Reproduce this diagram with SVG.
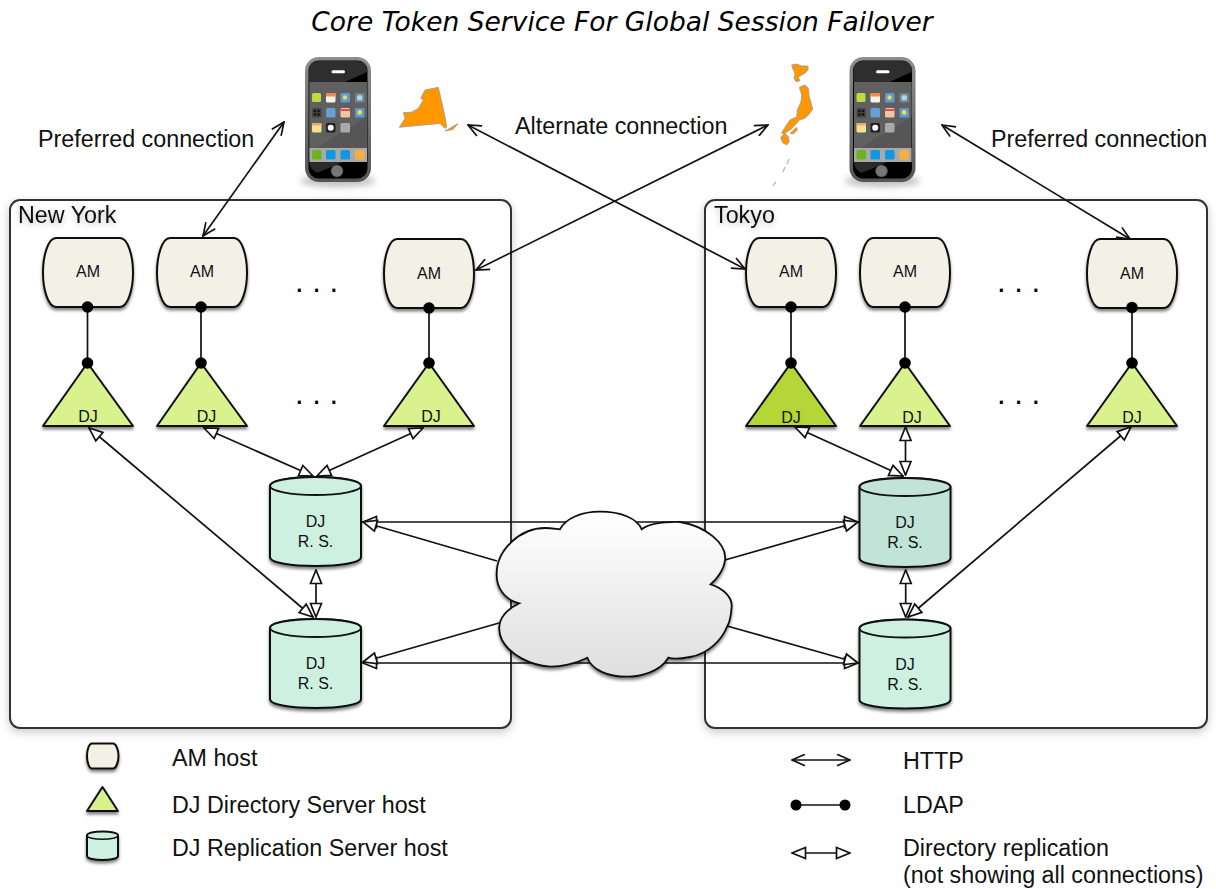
<svg xmlns="http://www.w3.org/2000/svg" xmlns:xlink="http://www.w3.org/1999/xlink" width="1216" height="889" viewBox="0 0 1216 889">
<style>
text{font-family:"Liberation Sans",Arial,sans-serif;fill:#111}
.title{font-family:"DejaVu Sans",sans-serif;font-style:oblique;font-size:26.500px;text-anchor:middle;fill:#000}
.lab{font-size:23.300px}
.reg{font-size:23.300px}
.n{font-size:16px;text-anchor:middle}
.dots{font-size:31px;text-anchor:start;fill:#000}
.region{fill:#fff;stroke:#333;stroke-width:2;filter:url(#soft)}
.am{fill:#f3f0e5;stroke:#111;stroke-width:2;filter:url(#sh)}
.ds{fill:#d9f28e;stroke:#111;stroke-width:2;stroke-linejoin:round;filter:url(#sh)}
.ds2{fill:#b5d637}
.rs{fill:#cdf0e0;stroke:#111;stroke-width:2;filter:url(#sh)}
.rs2{fill:#c2e3d7}
.top{stroke:#111;stroke-width:2}
.http{fill:none;stroke:#111;stroke-width:1.700;marker-start:url(#open);marker-end:url(#open)}
.rep{fill:none;stroke:#111;stroke-width:1.700;marker-start:url(#hollow);marker-end:url(#hollow)}
.repin{fill:none;stroke:#111;stroke-width:1.700;marker-start:url(#hollow)}
.ldap{fill:none;stroke:#111;stroke-width:1.700}
.dot{fill:#000}
.mapf{fill:#ff9800;stroke:#999;stroke-width:.8;stroke-linejoin:round}
</style>
<defs>
<filter id="sh" x="-20%" y="-20%" width="140%" height="150%"><feDropShadow dx="0" dy="2.500" stdDeviation="1.600" flood-color="#000" flood-opacity=".5"/></filter>
<filter id="soft" x="-5%" y="-5%" width="110%" height="110%"><feDropShadow dx="0" dy="3" stdDeviation="5" flood-color="#000" flood-opacity=".22"/></filter>
<filter id="txs" x="-20%" y="-40%" width="140%" height="190%"><feDropShadow dx="0" dy="2" stdDeviation="3" flood-color="#000" flood-opacity=".25"/></filter>
<filter id="bl" x="-30%" y="-100%" width="160%" height="300%"><feGaussianBlur stdDeviation="3"/></filter>
<linearGradient id="cl" x1="0" y1="0" x2="0" y2="1"><stop offset="0" stop-color="#fff"/><stop offset="1" stop-color="#dedede"/></linearGradient>
<linearGradient id="bz" x1="0" y1="0" x2="0" y2="1"><stop offset="0" stop-color="#8e8e8e"/><stop offset="1" stop-color="#555"/></linearGradient>
<marker id="open" viewBox="0 0 15 13" refX="14" refY="6.500" markerWidth="15" markerHeight="13" markerUnits="userSpaceOnUse" orient="auto-start-reverse"><path d="M1 .8L14 6.500L1 12.200" fill="none" stroke="#111" stroke-width="1.700"/></marker>
<marker id="hollow" viewBox="0 0 16 14" refX="15" refY="7" markerWidth="16" markerHeight="14" markerUnits="userSpaceOnUse" orient="auto-start-reverse"><path d="M1.500 1.500L15 7L1.500 12.500Z" fill="#fff" stroke="#111" stroke-width="1.700"/></marker>
<path id="amS" d="M13 0H77C85 0 90 18 90 34.500C90 51 85 69 77 69H13C5 69 0 51 0 34.500C0 18 5 0 13 0Z"/>
<g id="phone">
<ellipse cx="33" cy="124" rx="38" ry="6" fill="#999" opacity=".6" filter="url(#bl)"/>
<rect x="0" y="0" width="66" height="125" rx="14" fill="url(#bz)"/>
<rect x="3.500" y="3.500" width="59" height="118" rx="10" fill="#000"/>
<path d="M4 25V14Q4 4 14 4H52Q62 4 62 14V15L40 25Z" fill="#2e2e2e"/>
<rect x="26.500" y="13.300" width="13.500" height="3" rx="1.500" fill="#fff"/>
<rect x="4.500" y="25" width="57.500" height="80" fill="#565656"/>
<path d="M4.500 25H62V60L4.500 95Z" fill="#606060"/>
<path d="M4.500 105H38L12 116Q4.500 112 4.500 105Z" fill="#2a2a2a"/>
<rect x="4.500" y="91" width="57.500" height="14" fill="#a9a9a9"/>
<rect x="7" y="36" width="9" height="9" rx="1.500" fill="#bcdc3c"/>
<rect x="21" y="36" width="9.500" height="9.500" rx="1.500" fill="#f6f2ea"/><rect x="21" y="36" width="9.500" height="3.500" fill="#f08a4a"/>
<rect x="35.500" y="36" width="9.500" height="9.500" rx="1.500" fill="#5b9bd5"/><circle cx="40" cy="40.500" r="2.200" fill="#f5d94a"/>
<rect x="50" y="36" width="9.500" height="9.500" rx="1.500" fill="#77858a"/><circle cx="54.700" cy="40.700" r="2.800" fill="#a6dcea"/>
<rect x="7" y="51" width="9.500" height="9.500" rx="1.500" fill="#444"/><g fill="#111"><circle cx="10" cy="54" r="1.300"/><circle cx="13.500" cy="54" r="1.300"/><circle cx="10" cy="57.500" r="1.300"/><circle cx="13.500" cy="57.500" r="1.300"/></g>
<rect x="21" y="51" width="9.500" height="9.500" rx="1.500" fill="#659fd8"/>
<rect x="35.500" y="51" width="9.500" height="9.500" rx="1.500" fill="#f0c8a0"/><rect x="35.500" y="52" width="9.500" height="2" fill="#d9534f"/>
<rect x="50" y="51" width="9.500" height="9.500" rx="1.500" fill="#5b9bd5"/><circle cx="54.700" cy="55.500" r="2.400" fill="#f5d94a"/>
<rect x="7" y="66" width="9.500" height="9.500" rx="1.500" fill="#f6e28c"/><rect x="7" y="66" width="9.500" height="2.500" fill="#e0b070"/>
<rect x="21" y="66" width="9.500" height="9.500" rx="1.500" fill="#222"/><circle cx="25.700" cy="70.700" r="3" fill="#fff"/>
<rect x="35.500" y="66" width="9.500" height="9.500" rx="1.500" fill="#aaa"/>
<rect x="7" y="93" width="9.500" height="9.500" rx="1.500" fill="#6cb21e"/>
<rect x="21" y="93" width="9.500" height="9.500" rx="1.500" fill="#1496e0"/>
<rect x="35.500" y="93" width="9.500" height="9.500" rx="1.500" fill="#1496e0"/>
<rect x="50" y="93" width="9.500" height="9.500" rx="1.500" fill="#f5b041"/>
<circle cx="32" cy="114" r="6" fill="#777" stroke="#444" stroke-width=".6"/>
</g>
<path id="cyl" d="M-45.500 9C-45.500 3 -23 0 0 0C23 0 45.500 3 45.500 9V80C45.500 86 23 89 0 89C-23 89 -45.500 86 -45.500 80Z"/>
</defs>
<rect width="1216" height="889" fill="#fff"/>
<text class="title" x="622" y="31">Core Token Service For Global Session Failover</text>
<g id="region-newyork"><rect class="region" x="10" y="200" width="501" height="528" rx="10"/><text class="reg" x="18" y="223" filter="url(#txs)">New York</text></g>
<g id="region-tokyo"><rect class="region" x="705" y="200" width="502" height="528" rx="10"/><text class="reg" x="714" y="223" filter="url(#txs)">Tokyo</text></g>
<g id="phone-ny"><use href="#phone" x="305" y="57"/></g>
<g id="map-ny"><path class="mapf" d="M399.300 127.300L405 118.300L403.300 112.700L412 112L418.300 108.300L423.300 100L420.700 98.300L425 90L438.300 87.300L441.700 101.700L445 116.700L446.700 127L445 128.500L440 123.500ZM445 131L458 123.500L453 129.500Z"/></g>
<g id="map-jp"><path class="mapf" d="M791.700 65L796.700 64L801.700 66L807.700 66L808.300 69.300L805 73.300L801.700 75L798.300 77.300L800 80.700L796 81.700L794 78.300L795 73.300L793.300 70ZM799.300 87.300L805 85L808.300 88.300L809.300 96.700L811.700 105L812.700 109.300L808.300 115L805 118.300L799.300 120L796.700 123.300L790 130L783.300 134.300L781.700 132.700L785 127.300L790 120L796.700 116.700L797.300 110L801 101.700L801.700 95ZM780.700 137.300L785 133.300L788.300 136.700L789.300 141.700L786.700 145L782.700 142.700ZM790 133.300L796.700 127.300L797.300 130L793.300 134Z"/><path d="M789 159L787 164M785 167L783 172M776 182L773 185.500" stroke="#bbb" stroke-width="1.400" fill="none"/></g>
<g id="phone-jp"><use href="#phone" x="849.500" y="57"/></g>
<text class="lab" x="38" y="147">Preferred connection</text>
<text class="lab" x="515" y="134">Alternate connection</text>
<text class="lab" x="991" y="147">Preferred connection</text>
<g id="am-ny-1"><use class="am" href="#amS" x="43" y="238"/><text class="n" x="88" y="277">AM</text></g>
<g id="am-ny-2"><use class="am" href="#amS" x="157" y="238"/><text class="n" x="202" y="277">AM</text></g>
<g id="am-ny-3"><use class="am" href="#amS" x="384" y="239"/><text class="n" x="429" y="279">AM</text></g>
<g id="am-tk-1"><use class="am" href="#amS" x="746" y="238"/><text class="n" x="791" y="277">AM</text></g>
<g id="am-tk-2"><use class="am" href="#amS" x="860" y="238"/><text class="n" x="905" y="277">AM</text></g>
<g id="am-tk-3"><use class="am" href="#amS" x="1087" y="239"/><text class="n" x="1132" y="279">AM</text></g>
<g id="dj-ny-1"><polygon class="ds" points="87.500,363 133,426 43,426"/><text class="n" x="88" y="422">DJ</text></g>
<g id="dj-ny-2"><polygon class="ds" points="201,363 247,426 157,426"/><text class="n" x="206.500" y="422">DJ</text></g>
<g id="dj-ny-3"><polygon class="ds" points="429,363 474,426 384,426"/><text class="n" x="431" y="422">DJ</text></g>
<g id="dj-tk-1"><polygon class="ds ds2" points="791,363 836,426 746,426"/><text class="n" x="791" y="423">DJ</text></g>
<g id="dj-tk-2"><polygon class="ds" points="905,363 950,426 860,426"/><text class="n" x="912" y="423">DJ</text></g>
<g id="dj-tk-3"><polygon class="ds" points="1132,363 1177,426 1087,426"/><text class="n" x="1132" y="423">DJ</text></g>
<g id="rs-ny-1"><use class="rs" href="#cyl" x="315.500" y="477"/><ellipse class="top" cx="315.500" cy="486" rx="45.500" ry="9" fill="#cdf0e0"/><text class="n" x="315.500" y="527">DJ</text><text class="n" x="315.500" y="547">R. S.</text></g>
<g id="rs-ny-2"><use class="rs" href="#cyl" x="315.500" y="619"/><ellipse class="top" cx="315.500" cy="628" rx="45.500" ry="9" fill="#cdf0e0"/><text class="n" x="315.500" y="669">DJ</text><text class="n" x="315.500" y="689">R. S.</text></g>
<g id="rs-tk-1"><use class="rs rs2" href="#cyl" x="905" y="478"/><ellipse class="top" cx="905" cy="487" rx="45.500" ry="9" fill="#c2e3d7"/><text class="n" x="905" y="528">DJ</text><text class="n" x="905" y="548">R. S.</text></g>
<g id="rs-tk-2"><use class="rs" href="#cyl" x="905" y="619.500"/><ellipse class="top" cx="905" cy="628.500" rx="45.500" ry="9" fill="#cdf0e0"/><text class="n" x="905" y="670">DJ</text><text class="n" x="905" y="690">R. S.</text></g>
<g id="connectors">
<path class="http" d="M284 122L203 236"/>
<path class="http" d="M468 125L745 269"/>
<path class="http" d="M768 125L476 270"/>
<path class="http" d="M942 125L1130 239"/>
<path class="rep" d="M89 428L313 617"/>
<path class="rep" d="M204 428L313 476"/>
<path class="rep" d="M423 428L317 476"/>
<path class="rep" d="M316 570V617"/>
<path class="rep" d="M795 427L903 476"/>
<path class="rep" d="M905.500 427V475"/>
<path class="rep" d="M905.700 570V617"/>
<path class="rep" d="M1131 427L908 617"/>
<path class="rep" d="M363 522H858"/>
<path class="rep" d="M363 663H858"/>
<path class="repin" d="M363 522L497 561"/>
<path class="repin" d="M858 522L725 560"/>
<path class="repin" d="M363 662L499 623"/>
<path class="repin" d="M858 663L727 626"/>
<path class="ldap" d="M87.500 307V363M201 307V363M429 308V363M791 307V363M905 307V363M1132 308V363"/>
<g class="dot"><circle cx="87.500" cy="307" r="5.800"/><circle cx="87.500" cy="363" r="5.800"/><circle cx="201" cy="307" r="5.800"/><circle cx="201" cy="363" r="5.800"/><circle cx="429" cy="308" r="5.800"/><circle cx="429" cy="363" r="5.800"/><circle cx="791" cy="307" r="5.800"/><circle cx="791" cy="363" r="5.800"/><circle cx="905" cy="307" r="5.800"/><circle cx="905" cy="363" r="5.800"/><circle cx="1132" cy="307.500" r="5.800"/><circle cx="1132" cy="363" r="5.800"/></g>
</g>
<g id="cloud"><path d="M560 529.300C566 518 582 511.700 600 511.700C620 511.700 637 518 641.700 529.300C650 523 664 521.700 680 522C705 526 727 543 725 560C724 570 716 580 710.700 584.300C722 588 732 596 731.700 606C731 616 730 622 727.300 626C722 640 708 654 690 657C680 659 672 659 668.300 657.700C660 672 640 676.700 626.700 676.700C608 676.700 592 670 587.300 657.700C575 664 560 667 550 666.700C530 665 510 655 502 640C499 634 499 630 499.300 626.700C500 616 510 608 519.300 603.300C505 600 496 588 496.700 573C497 550 520 528 545 528C552 528 556 529 560 529.300Z" fill="url(#cl)" stroke="#111" stroke-width="1.800" filter="url(#sh)"/></g>
<text class="dots" x="295" y="292">. . .</text>
<text class="dots" x="295" y="404">. . .</text>
<text class="dots" x="997" y="292">. . .</text>
<text class="dots" x="997" y="404">. . .</text>
<g id="legend">
<g id="legend-am"><path class="am" d="M92 743.500H113C116 743.500 118.500 750 118.500 756C118.500 762 116 768.500 113 768.500H92C89 768.500 87 762 87 756C87 750 89 743.500 92 743.500Z"/></g>
<g id="legend-dj"><polygon class="ds" points="102.500,787 118,811 87,811"/></g>
<g id="legend-rs"><path class="rs" d="M87 835.500C87 833 95 831.500 102.500 831.500C110 831.500 118 833 118 835.500V856C118 858.500 110 860 102.500 860C95 860 87 858.500 87 856Z"/><ellipse cx="102.500" cy="835.500" rx="15.500" ry="3.800" fill="#cdf0e0" stroke="#111" stroke-width="1.600"/></g>
<text class="lab" x="172" y="766">AM host</text>
<text class="lab" x="172" y="813">DJ Directory Server host</text>
<text class="lab" x="172" y="856">DJ Replication Server host</text>
<path class="http" d="M792 760H850"/>
<path class="ldap" d="M796 805H845"/><circle class="dot" cx="796" cy="805" r="5.500"/><circle class="dot" cx="845" cy="805" r="5.500"/>
<path class="rep" d="M792 853H850"/>
<text class="lab" x="903" y="769">HTTP</text>
<text class="lab" x="903" y="813">LDAP</text>
<text class="lab" x="903" y="856">Directory replication</text>
<text class="lab" x="903" y="883">(not showing all connections)</text>
</g>
</svg>
